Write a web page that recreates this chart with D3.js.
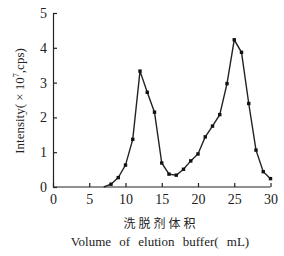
<!DOCTYPE html>
<html>
<head>
<meta charset="utf-8">
<script src="https://cdn.jsdelivr.net/npm/d3@7"></script>
<style>
  body { margin: 0; background: #fff; }
  svg text { font-family: "Liberation Serif", "DejaVu Serif", serif; fill: #222; }
  svg text.cn { font-family: "Noto Sans CJK SC", sans-serif; }
</style>
</head>
<body>
<svg width="284" height="256"></svg>
<script>
const width = 284;
const height = 256;

const svg = d3.select('svg');

// elution volume (mL) and intensity (x10^7 cps)
const volume = [7, 8, 9, 10, 11, 12, 13, 14, 15, 16, 17, 18, 19, 20, 21, 22, 23, 24, 25, 26, 27, 28, 29, 30];
const intensity = [0, 0.08, 0.27, 0.63, 1.37, 3.33, 2.72, 2.15, 0.69, 0.37, 0.34, 0.51, 0.75, 0.95, 1.44, 1.75, 2.08, 2.97, 4.23, 3.87, 2.40, 1.06, 0.44, 0.24];
const xTicks = [0, 5, 10, 15, 20, 25, 30];
const yTicks = [0, 1, 2, 3, 4, 5];

const data = volume.map((v, i) => ({ v: v, y: intensity[i] }));

const margin = { top: 13, left: 53 };

const xScale = d3.scaleLinear().domain([0, 30]).range([0, 217.5]);
const yScale = d3.scaleLinear().domain([0, 5]).range([174, 0]);

const g = svg.append('g')
    .attr('transform', 'translate(' + margin.left + ', ' + margin.top + ')');

const xAxis = d3.axisBottom(xScale)
    .tickValues(xTicks)
    .tickFormat(d3.format('d'))
    .tickSize(-4)
    .tickSizeOuter(0)
    .tickPadding(7);

const yAxis = d3.axisLeft(yScale)
    .tickValues(yTicks)
    .tickFormat(d3.format('d'))
    .tickSize(-4)
    .tickSizeOuter(0)
    .tickPadding(6);

const xAxisG = g.append('g').call(xAxis)
    .attr('transform', 'translate(0, 174)');
const yAxisG = g.append('g').call(yAxis);

[xAxisG, yAxisG].forEach(a => {
    a.attr('font-family', null).attr('font-size', null);
    a.selectAll('path, line').attr('stroke', '#222').attr('stroke-width', 1.2);
    a.selectAll('text')
        .style('font-size', '14px')
        .style('font-family', '"Liberation Serif", serif')
        .attr('fill', '#222');
});
xAxisG.select('.domain').attr('d', 'M0,0H217.5');

const line = d3.line()
    .x(d => xScale(d.v))
    .y(d => yScale(d.y));

g.append('path')
    .datum(data)
    .attr('fill', 'none')
    .attr('stroke', '#222')
    .attr('stroke-width', 1.4)
    .attr('d', line);

g.selectAll('rect.pt')
    .data(data.filter(d => d.y > 0))
    .enter()
    .append('rect')
    .attr('class', 'pt')
    .attr('x', d => xScale(d.v) - 1.7)
    .attr('y', d => yScale(d.y) - 1.7)
    .attr('width', 3.4)
    .attr('height', 3.4)
    .attr('fill', '#111');

// y axis title
const yLabel = svg.append('text')
    .attr('transform', 'translate(24, 101) rotate(-90)')
    .attr('text-anchor', 'middle')
    .style('font-size', '13px');
yLabel.append('tspan').text('Intensity( × 10');
yLabel.append('tspan').style('font-size', '8px').attr('dy', -5).text('7');
yLabel.append('tspan').attr('dy', 5).text(',cps)');

svg.append('text')
    .attr('class', 'cn')
    .attr('x', 161)
    .attr('y', 228)
    .attr('text-anchor', 'middle')
    .style('font-size', '12px')
    .attr('letter-spacing', 3)
    .text('洗脱剂体积');

svg.append('text')
    .attr('x', 160)
    .attr('y', 246)
    .attr('text-anchor', 'middle')
    .style('font-size', '13px')
    .attr('word-spacing', 5)
    .text('Volume of elution buffer( mL)');
</script>
</body>
</html>
